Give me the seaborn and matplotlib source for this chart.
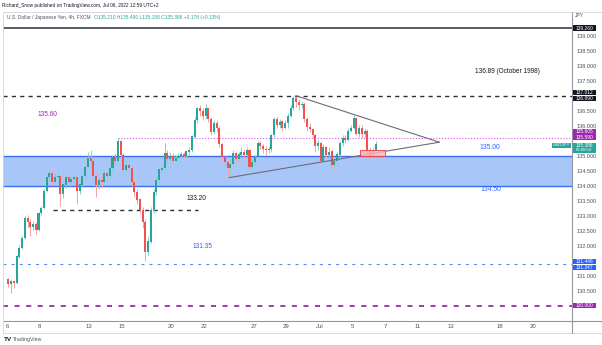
import matplotlib
matplotlib.use("Agg")
import matplotlib.pyplot as plt
import seaborn as sns
import pandas as pd
from matplotlib.patches import Rectangle
from matplotlib.lines import Line2D

# ---------------- data (4h bars, USD/JPY, Jun 6 -> Jul 6 2022) ----------------
first_open = 130.90
closes = [
    130.72, 130.82, 130.78, 131.65, 131.95, 132.27,
    132.95, 132.80, 132.62, 132.72, 132.55, 133.10,
    133.27, 133.85, 134.30, 134.45, 134.15, 134.30,
    134.35, 133.75, 134.05, 134.30, 134.15, 134.25,
    134.30, 133.85, 134.05, 134.35, 134.65, 134.95,
    134.85, 134.35, 134.03, 134.20, 134.15, 134.45,
    134.35, 134.60, 134.97, 134.85, 135.50, 135.05,
    134.55, 134.70, 134.60, 134.15, 133.80, 133.55,
    133.20, 132.80, 131.80, 132.15, 133.20, 133.80,
    134.20, 134.55, 134.60, 135.10, 134.90, 135.00,
    134.85, 134.95, 135.00, 135.05, 135.00, 135.15,
    135.20, 135.65, 136.20, 136.60, 136.50, 136.35,
    136.60, 136.25, 135.80, 136.10, 135.95, 135.40,
    134.97, 134.80, 134.60, 134.75, 135.10, 134.90,
    135.05, 135.15, 135.05, 135.20, 134.65, 134.80,
    134.97, 135.45, 135.35, 135.25, 135.20, 135.25,
    135.70, 136.25, 136.05, 136.15, 135.95, 136.10,
    136.35, 136.60, 136.95, 136.80, 136.70, 136.75,
    136.25, 135.97, 135.90, 135.70, 135.35, 135.45,
    134.85, 135.30, 135.05, 135.15, 134.70, 134.85,
    135.05, 135.45, 135.60, 135.55, 135.85, 135.95,
    136.27, 135.75, 135.95, 135.75, 135.85, 135.20,
    134.98, 135.21, 135.386,
]
highs = [
    130.95, 130.90, 130.88, 131.70, 132.02, 132.35,
    133.00, 133.05, 132.90, 132.85, 132.80, 133.15,
    133.35, 133.90, 134.40, 134.55, 134.50, 134.45,
    134.50, 134.35, 134.15, 134.40, 134.35, 134.35,
    134.40, 134.35, 134.15, 134.45, 134.75, 135.15,
    135.20, 134.95, 134.45, 134.30, 134.35, 134.55,
    134.50, 134.70, 135.05, 135.10, 135.60, 135.55,
    135.10, 134.85, 134.80, 134.65, 134.20, 133.90,
    133.60, 133.30, 132.90, 132.30, 133.30, 133.90,
    134.30, 134.60, 134.70, 135.43, 135.20, 135.15,
    135.10, 135.05, 135.10, 135.12, 135.15, 135.20,
    135.30, 135.70, 136.30, 136.65, 136.70, 136.60,
    136.72, 136.60, 136.30, 136.20, 136.20, 136.00,
    135.45, 135.05, 134.85, 134.90, 135.20, 135.15,
    135.15, 135.30, 135.25, 135.30, 135.25, 134.90,
    135.05, 135.50, 135.50, 135.40, 135.35, 135.35,
    135.75, 136.30, 136.30, 136.25, 136.20, 136.20,
    136.45, 136.70, 137.01, 136.98, 136.90, 136.85,
    136.80, 136.30, 136.10, 135.95, 135.75, 135.55,
    135.50, 135.40, 135.35, 135.30, 135.20, 134.95,
    135.15, 135.50, 135.70, 135.70, 135.95, 136.05,
    136.37, 136.30, 136.05, 136.05, 135.95, 135.90,
    135.30, 135.30, 135.49,
]
lows = [
    130.62, 130.45, 130.60, 130.75, 131.60, 131.90,
    132.25, 132.60, 132.35, 132.55, 132.40, 132.50,
    133.05, 133.25, 133.80, 134.20, 134.05, 134.10,
    134.10, 133.35, 133.60, 133.95, 134.00, 134.05,
    134.10, 133.40, 133.75, 134.00, 134.25, 134.60,
    134.60, 134.20, 133.65, 133.90, 133.95, 134.10,
    134.15, 134.25, 134.50, 134.70, 134.80, 134.95,
    134.45, 134.45, 134.45, 134.00, 133.65, 133.40,
    133.10, 132.60, 131.50, 131.70, 132.10, 133.10,
    133.70, 134.10, 134.45, 134.55, 134.75, 134.60,
    134.70, 134.80, 134.85, 134.90, 134.92, 134.95,
    135.05, 135.15, 135.60, 136.10, 136.35, 136.20,
    136.25, 136.15, 135.70, 135.75, 135.80, 135.30,
    134.85, 134.60, 134.27, 134.45, 134.70, 134.80,
    134.85, 135.00, 134.95, 135.00, 134.55, 134.50,
    134.70, 134.95, 135.25, 135.10, 135.05, 135.10,
    135.15, 135.65, 135.95, 135.95, 135.85, 135.90,
    135.95, 136.30, 136.55, 136.65, 136.55, 136.60,
    136.15, 135.85, 135.80, 135.60, 135.15, 135.20,
    134.78, 134.80, 134.95, 134.95, 134.63, 134.65,
    134.75, 135.00, 135.35, 135.45, 135.50, 135.80,
    135.90, 135.70, 135.65, 135.60, 135.65, 135.10,
    134.90, 134.95, 135.158,
]
opens = [first_open] + closes[:-1]

bars_per_day = 6
day_index = [0, 2, 5, 7, 10, 12, 15, 17, 19, 21, 23, 25, 27, 30, 32]
day_labels = ["6", "8", "13", "15", "20", "22", "27", "29", "Jul", "5", "7", "11", "13", "18", "20"]

price_ticks = [130.0, 130.5, 131.0, 131.5, 132.0, 132.5, 133.0, 133.5, 134.0,
               134.5, 135.0, 135.5, 136.0, 136.5, 137.0, 137.5, 138.0, 138.5, 139.0]
# tick labels hidden behind the coloured price tags
hidden_ticks = [130.0, 131.5, 135.5, 137.0]

level_top = 139.26
level_1998 = 137.012
level_high = 135.59
zone_low, zone_high = 134.0, 135.0
level_1332 = 133.20
level_1314 = 131.40
level_130 = 130.0

tri_upper_x = [104.9, 157.3]
tri_upper_y = [137.01, 135.46]
tri_lower_x = [80.6, 157.3]
tri_lower_y = [134.28, 135.46]

# ---------------- figure ----------------
sns.set_theme(style="white")
plt.rcParams["font.family"] = ["Liberation Sans", "DejaVu Sans"]

W, H = 602, 345
fig = plt.figure(figsize=(W / 100, H / 100), dpi=100)
fig.patch.set_facecolor("white")
ax = fig.add_axes([3 / W, 1 - 321 / H, (572 - 3) / W, (321 - 12) / H])
ax.set_facecolor("white")

df = pd.DataFrame({"o": opens, "h": highs, "l": lows, "c": closes})
df["k"] = range(len(df))

GREEN, RED = "#26a69a", "#ef5350"
GREEN_W, RED_W = "#8ccfc6", "#f5a3a1"

# zone
ax.axhspan(zone_low, zone_high, color="#a9c6f8", zorder=1, lw=0)
for lv in (zone_low, zone_high):
    ax.axhline(lv, color="#3d6df2", lw=1.0, zorder=2)

# horizontal levels
ax.axhline(level_top, color="#2a2e39", lw=1.1, zorder=2)
ax.axhline(level_1998, color="#2a2e39", lw=1.0, ls=(0, (3.0, 3.0)), zorder=2)
ax.plot([40, 210], [level_high, level_high], color="#d65ae6", lw=0.8, ls=(0, (1, 1.6)), zorder=2)
ax.plot([16.3, 69.2], [level_1332, level_1332], color="#2a2e39", lw=1.0, ls=(0, (3.0, 3.0)), zorder=2)
ax.axhline(level_1314, color="#5b8def", lw=0.8, ls=(0, (2.8, 4.5)), zorder=2)
ax.axhline(level_130, color="#9c27b0", lw=1.3, ls=(0, (2.8, 3.6)), zorder=2)

# candles
for _, r in df.iterrows():
    up = r.c >= r.o
    ax.vlines(r.k, r.l, r.h, color=GREEN_W if up else RED_W, lw=0.7, zorder=3)
    bot = min(r.o, r.c)
    hgt = max(abs(r.c - r.o), 0.025)
    ax.bar(r.k, hgt, bottom=bot, width=0.74, color=GREEN if up else RED, lw=0, zorder=4)

# triangle
tri = pd.DataFrame({"x": tri_upper_x + tri_lower_x, "y": tri_upper_y + tri_lower_y,
                    "side": ["u", "u", "l", "l"]})
sns.lineplot(data=tri, x="x", y="y", units="side", estimator=None, color="#6a6d78",
             lw=0.8, ax=ax, zorder=5, legend=False)

# current price box
ax.add_patch(Rectangle((128.4, 134.99), 9.2, 0.20, facecolor="#f7b7b7", edgecolor="#f23645",
                       lw=0.7, alpha=0.85, zorder=5))

# annotations
ax.text(14.1, 136.40, "135.60", color="#9c27b0", fontsize=4.7, ha="center", va="center")
ax.text(182.0, 137.83, "136.89 (October 1998)", color="#131722", fontsize=4.7, ha="center", va="center")
ax.text(175.7, 135.27, "135.00", color="#2962ff", fontsize=4.9, ha="center", va="center")
ax.text(176.1, 133.87, "134.50", color="#2962ff", fontsize=4.9, ha="center", va="center")
ax.text(68.5, 133.60, "133.20", color="#131722", fontsize=4.7, ha="center", va="center")
ax.text(71.0, 132.00, "131.35", color="#2962ff", fontsize=4.7, ha="center", va="center")

# axes setup
ax.set_xlim(-1.96, 205.7)
ax.set_ylim(129.5, 139.8)
ax.set_xlabel("")
ax.set_ylabel("")
ax.set_xticks([bars_per_day * d - 0.5 for d in day_index])
ax.set_xticklabels(day_labels)
ax.yaxis.tick_right()
ax.set_yticks(price_ticks)
ax.set_yticklabels(["" if p in hidden_ticks else f"{p:.3f}" for p in price_ticks])
ax.tick_params(axis="x", length=0, pad=2.2, labelsize=4.3, labelcolor="#50535e")
ax.tick_params(axis="y", length=0, pad=3.0, labelsize=4.0, labelcolor="#50535e")
for s in ("top", "left"):
    ax.spines[s].set_visible(False)
for s in ("bottom", "right"):
    ax.spines[s].set_color("#9598a1")
    ax.spines[s].set_linewidth(0.8)
ax.grid(False)

# frame lines in figure pixels
def fline(x0, y0, x1, y1, color="#d1d4dc", lw=0.6):
    fig.add_artist(Line2D([x0 / W, x1 / W], [1 - y0 / H, 1 - y1 / H], color=color, lw=lw,
                          transform=fig.transFigure))

fline(3, 12, 602, 12)
fline(3, 12, 3, 333)
fline(3, 333, 602, 333)
fline(572, 321, 572, 333, color="#9598a1", lw=0.8)
fline(572, 321, 602, 321, color="#9598a1", lw=0.8)

# right-axis coloured labels
def plabel(yc, text, fc, h=5.4):
    fig.add_artist(Rectangle((572.5 / W, 1 - (yc + h / 2) / H), 23 / W, h / H, facecolor=fc,
                             edgecolor="none", transform=fig.transFigure, zorder=10))
    fig.text(584 / W, 1 - yc / H, text, color="white", fontsize=3.5, ha="center", va="center",
             zorder=11)

plabel(28.2, "139.260", "#131722")
plabel(92.6, "137.012", "#131722")
plabel(98.4, "136.890", "#131722")
plabel(131.3, "135.605", "#9c27b0")
plabel(137.0, "135.590", "#9c27b0")
fig.add_artist(Rectangle((572.5 / W, 1 - 152.5 / H), 23 / W, 9.8 / H, facecolor="#26a69a",
                         edgecolor="none", transform=fig.transFigure, zorder=10))
fig.text(584 / W, 1 - 145.2 / H, "135.386", color="white", fontsize=3.5, ha="center",
         va="center", zorder=11)
fig.text(584 / W, 1 - 150.4 / H, "02:00:54", color="white", fontsize=3.1, ha="center",
         va="center", zorder=11)
fig.add_artist(Rectangle((552 / W, 1 - 148.3 / H), 18.5 / W, 5.6 / H, facecolor="#26a69a",
                         edgecolor="none", transform=fig.transFigure, zorder=10))
fig.text(561.2 / W, 1 - 145.5 / H, "USDJPY", color="white", fontsize=3.2, ha="center",
         va="center", zorder=11)
plabel(261.6, "131.446", "#2962ff")
plabel(267.3, "131.347", "#2962ff")
plabel(305.5, "130.000", "#9c27b0")
fig.text(575 / W, 1 - 15.5 / H, "JPY", color="#50535e", fontsize=3.6, ha="left", va="center")

# header and footer
fig.text(2 / W, 1 - 5.5 / H, "Richard_Snow published on TradingView.com, Jul 06, 2022 12:59 UTC+2",
         color="#131722", fontsize=3.4, ha="left", va="center")
t1 = fig.text(7 / W, 1 - 17 / H, "U.S. Dollar / Japanese Yen, 4h, FXCM", color="#50535e",
              fontsize=3.5, ha="left", va="center")
fig.canvas.draw()
x_end = t1.get_window_extent(renderer=fig.canvas.get_renderer()).x1
fig.text((x_end + 3) / W, 1 - 17 / H, "O135.210 H135.490 L135.158 C135.386 +0.176 (+0.13%)",
         color="#26a69a", fontsize=3.5, ha="left", va="center")
fig.text(4 / W, 1 - 339.5 / H, "TV", color="#131722", fontsize=4.6, fontweight="bold",
         ha="left", va="center")
fig.text(12.5 / W, 1 - 339.5 / H, "TradingView", color="#50535e", fontsize=3.8, ha="left",
         va="center")

fig.savefig("out.png", dpi=100, facecolor="white")
